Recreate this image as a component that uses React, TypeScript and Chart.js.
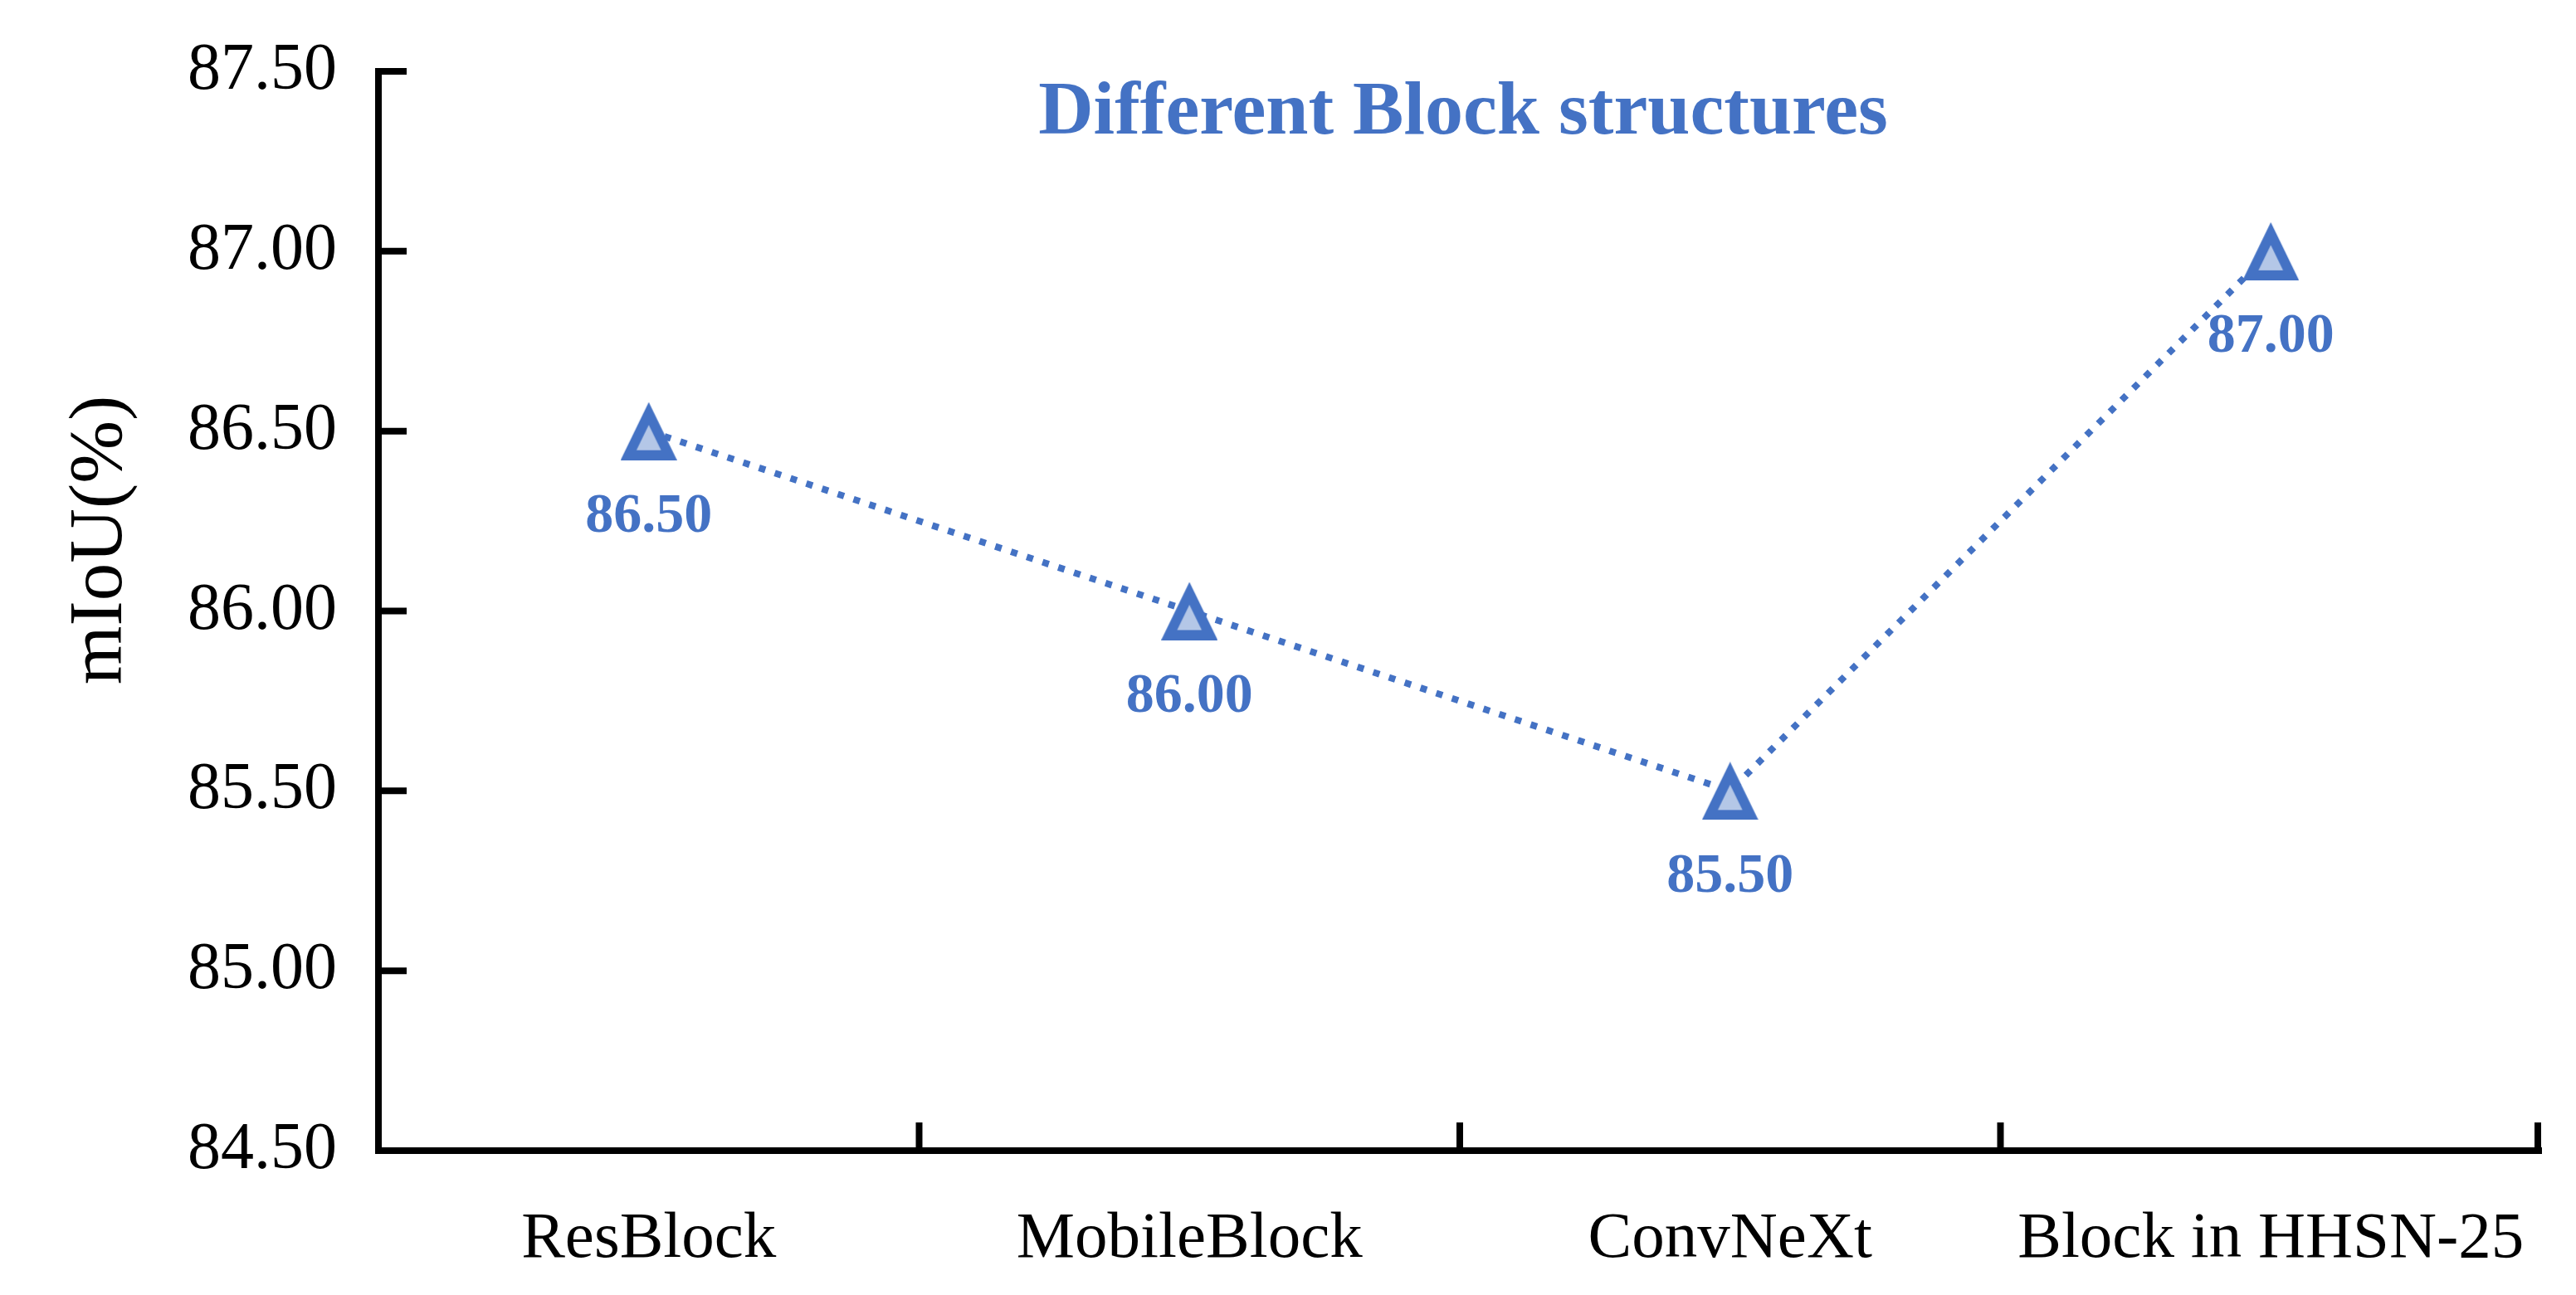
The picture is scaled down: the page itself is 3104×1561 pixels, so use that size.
import React, { useEffect, useRef } from "react";
import { Chart, registerables } from "chart.js";

Chart.register(...registerables);

const categories = ["ResBlock", "MobileBlock", "ConvNeXt", "Block in HHSN-25"];
const miouValues = [86.5, 86.0, 85.5, 87.0];
const yTickValues = [84.5, 85.0, 85.5, 86.0, 86.5, 87.0, 87.5];
const chartTitle = "Different Block structures";
const yAxisTitle = "mIoU(%)";

const BLUE = "#4472C4";
const LIGHT = "#B4C7E7";
const FONT = "'Liberation Serif', 'Times New Roman', Times, serif";
const W = 3104;
const H = 1561;

function makeTriangle(): HTMLCanvasElement {
  const w = 68;
  const h = 70;
  const c = document.createElement("canvas");
  c.width = w;
  c.height = h;
  const ctx = c.getContext("2d")!;
  const p = [
    [w / 2, 0],
    [w, h],
    [0, h],
  ];
  ctx.fillStyle = BLUE;
  ctx.beginPath();
  ctx.moveTo(p[0][0], p[0][1]);
  ctx.lineTo(p[1][0], p[1][1]);
  ctx.lineTo(p[2][0], p[2][1]);
  ctx.closePath();
  ctx.fill();
  const leg = Math.hypot(w / 2, h);
  const per = w + 2 * leg;
  const area = (w * h) / 2;
  const r = (2 * area) / per;
  const cx = w / 2;
  const cy = h - r;
  const t = 12;
  const s = (r - t) / r;
  ctx.fillStyle = LIGHT;
  ctx.beginPath();
  p.forEach(([x, y], i) => {
    const nx = cx + (x - cx) * s;
    const ny = cy + (y - cy) * s;
    if (i === 0) ctx.moveTo(nx, ny);
    else ctx.lineTo(nx, ny);
  });
  ctx.closePath();
  ctx.fill();
  return c;
}

const decorPlugin = {
  id: "decor",
  afterDraw(chart: any) {
    const ctx = chart.ctx;
    const area = chart.chartArea;
    const xs = chart.scales.x;
    const ys = chart.scales.y;
    ctx.save();
    ctx.strokeStyle = "#000";
    ctx.lineWidth = 8;
    ctx.lineCap = "butt";
    yTickValues.forEach((v) => {
      const y = ys.getPixelForValue(v);
      ctx.beginPath();
      ctx.moveTo(area.left, y);
      ctx.lineTo(area.left + 34, y);
      ctx.stroke();
    });
    for (let i = 0; i < categories.length; i++) {
      let x: number;
      if (i < categories.length - 1) {
        x = (xs.getPixelForValue(i) + xs.getPixelForValue(i + 1)) / 2;
      } else {
        x = area.right - 4;
      }
      ctx.beginPath();
      ctx.moveTo(x, area.bottom);
      ctx.lineTo(x, area.bottom - 34);
      ctx.stroke();
    }
    const meta = chart.getDatasetMeta(0);
    ctx.fillStyle = BLUE;
    ctx.font = `bold 68px ${FONT}`;
    ctx.textAlign = "center";
    ctx.textBaseline = "middle";
    meta.data.forEach((pt: any, i: number) => {
      ctx.fillText(miouValues[i].toFixed(2), pt.x, pt.y + 104);
    });
    ctx.font = `bold 92px ${FONT}`;
    ctx.fillText(chartTitle, (area.left + area.right) / 2 + 4, 137);
    ctx.fillStyle = "#000";
    ctx.font = `91px ${FONT}`;
    ctx.translate(146, 651);
    ctx.rotate(-Math.PI / 2);
    ctx.textBaseline = "alphabetic";
    ctx.fillText(yAxisTitle, 0, 0);
    ctx.restore();
  },
};

export default function App() {
  const ref = useRef<HTMLCanvasElement | null>(null);
  useEffect(() => {
    if (!ref.current) return;
    const tri = makeTriangle();
    const chart = new Chart(ref.current, {
      type: "line",
      data: {
        labels: categories,
        datasets: [
          {
            data: miouValues,
            borderColor: BLUE,
            borderWidth: 8,
            borderDash: [8, 12],
            borderCapStyle: "butt",
            fill: false,
            tension: 0,
            pointStyle: tri as any,
            pointRadius: 34,
            pointHoverRadius: 34,
          },
        ],
      },
      options: {
        animation: false,
        responsive: false,
        devicePixelRatio: 1,
        events: [],
        layout: { padding: { top: 86, right: 41, left: 0, bottom: 0 } },
        plugins: {
          legend: { display: false },
          title: { display: false },
          tooltip: { enabled: false },
        },
        scales: {
          x: {
            type: "category",
            offset: true,
            grid: { display: false, drawTicks: false },
            border: { display: true, color: "#000", width: 8 },
            ticks: {
              color: "#000",
              font: { family: FONT, size: 79 },
              padding: 60,
              maxRotation: 0,
              autoSkip: false,
            },
            afterFit: (s: any) => {
              s.height = H - 1387;
              s.paddingLeft = 0;
              s.paddingRight = 0;
            },
          },
          y: {
            min: 84.5,
            max: 87.5,
            grid: { display: false, drawTicks: false },
            border: { display: true, color: "#000", width: 8 },
            ticks: {
              stepSize: 0.5,
              color: "#000",
              font: { family: FONT, size: 80 },
              padding: 50,
              callback: (v: any) => Number(v).toFixed(2),
            },
            afterFit: (s: any) => {
              s.width = 456;
              s.paddingTop = 0;
              s.paddingBottom = 0;
            },
          },
        },
      },
      plugins: [decorPlugin],
    });
    return () => chart.destroy();
  }, []);
  return (
    <div
      style={{
        position: "fixed",
        left: 0,
        top: 0,
        width: W,
        height: H,
        background: "#fff",
      }}
    >
      <canvas ref={ref} width={W} height={H} style={{ width: W, height: H, display: "block" }} />
    </div>
  );
}
